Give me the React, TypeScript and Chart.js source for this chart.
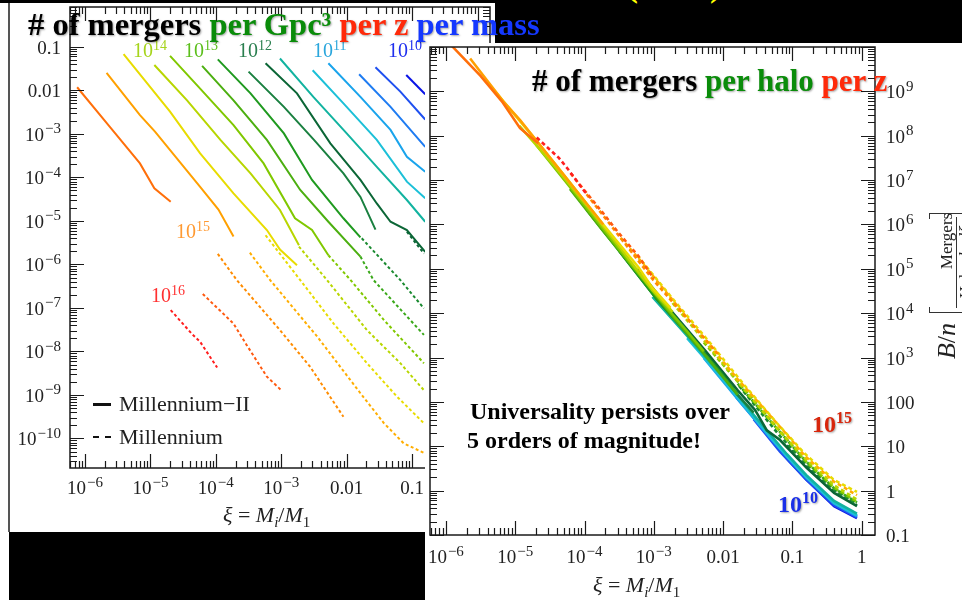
import React, { useEffect, useRef } from 'react';
import { Chart, registerables } from 'chart.js';

Chart.register(...registerables);

// ---------------- axis ticks ----------------
const xTickValues = [1e-6, 1e-5, 1e-4, 1e-3, 0.01, 0.1, 1];
const xTickLabels = ['10^−6', '10^−5', '10^−4', '10^−3', '0.01', '0.1', '1'];
const leftYTickValues = [0.1, 0.01, 1e-3, 1e-4, 1e-5, 1e-6, 1e-7, 1e-8, 1e-9, 1e-10];
const leftYTickLabels = ['0.1', '0.01', '10^−3', '10^−4', '10^−5', '10^−6', '10^−7', '10^−8', '10^−9', '10^−10'];
const rightYTickValues = [0.1, 1, 10, 100, 1e3, 1e4, 1e5, 1e6, 1e7, 1e8, 1e9];
const rightYTickLabels = ['0.1', '1', '10', '100', '10^3', '10^4', '10^5', '10^6', '10^7', '10^8', '10^9'];
const xRange = [5.9e-7, 1.55];
const leftYRange = [2.1e-11, 0.82];
const rightYRange = [0.1, 1e10];

// ---------------- left panel data (log10 xi, log10 mergers / Gpc^3 / z / mass) ----------------
const ls1Xi = [-6.12, -5.62, -5.16, -4.94, -4.69];
const ls1Val = [-1.93, -2.84, -3.68, -4.25, -4.56];
const ls2Xi = [-5.67, -5.16, -4.93, -4.24, -3.96, -3.73];
const ls2Val = [-1.6, -2.57, -2.95, -4.22, -4.74, -5.36];
const ls3Xi = [-5.41, -4.7, -4.24, -3.73, -3.22, -3.02, -2.76];
const ls3Val = [-1.17, -2.49, -3.45, -4.37, -5.21, -5.66, -6.02];
const ls4Xi = [-4.94, -4.44, -3.93, -3.47, -3.02, -2.73];
const ls4Val = [-1.42, -2.23, -3.14, -3.91, -4.75, -5.56];
const ls5Xi = [-4.7, -4.24, -3.73, -3.27, -2.79, -2.53, -2.28];
const ls5Val = [-1.21, -1.96, -2.8, -3.68, -4.94, -5.21, -5.79];
const ls6Xi = [-4.21, -3.73, -3.22, -2.71, -2.28, -1.79];
const ls6Val = [-1.44, -2.23, -3.14, -4.29, -5.02, -5.82];
const ls7Xi = [-3.97, -3.47, -2.96, -2.53, -2.05, -1.79];
const ls7Val = [-1.29, -2.07, -2.99, -4.06, -4.94, -5.38];
const ls8Xi = [-3.5, -2.96, -2.5, -2.05, -1.79, -1.56];
const ls8Val = [-1.57, -2.38, -3.14, -3.91, -4.45, -5.2];
const ls9Xi = [-3.24, -2.76, -2.25, -1.79, -1.54, -1.33, -1.08, -0.8];
const ls9Val = [-1.38, -2.07, -3.22, -4.06, -4.6, -5.02, -5.21, -5.71];
const ls10Xi = [-3.02, -2.51, -2.0, -1.54, -1.08, -0.8];
const ls10Val = [-1.27, -2.15, -2.99, -3.76, -4.52, -5.02];
const ls11Xi = [-2.52, -2.05, -1.54, -1.08, -0.8];
const ls11Val = [-1.54, -2.3, -3.14, -4.1, -4.48];
const ls12Xi = [-2.28, -1.79, -1.33, -1.08, -0.8];
const ls12Val = [-1.38, -2.15, -2.91, -3.53, -3.87];
const ls13Xi = [-1.81, -1.33, -0.8];
const ls13Val = [-1.63, -2.38, -3.3];
const ls14Xi = [-1.56, -1.18, -0.8];
const ls14Val = [-1.47, -2.03, -2.67];
const ls15Xi = [-1.09, -0.8];
const ls15Val = [-1.65, -2.09];

const ld1Xi = [-4.69, -4.37, -4.24, -3.98];
const ld1Val = [-7.05, -7.59, -7.78, -8.37];
const ld2Xi = [-4.2, -3.73, -3.53, -3.22, -3.0];
const ld2Val = [-6.68, -7.36, -7.85, -8.58, -8.89];
const ld3Xi = [-3.97, -3.68, -3.02, -2.56, -2.05];
const ld3Val = [-5.76, -6.36, -7.51, -8.35, -9.5];
const ld4Xi = [-3.48, -3.17, -2.45, -1.79, -1.43, -1.13, -0.82];
const ld4Val = [-5.73, -6.36, -7.66, -8.96, -9.65, -10.11, -10.33];
const ld5Xi = [-3.24, -2.71, -2.2, -1.69, -1.23, -0.82];
const ld5Val = [-5.33, -6.36, -7.36, -8.27, -9.04, -9.65];
const ld6Xi = [-2.73, -2.3, -1.69, -1.18, -0.82];
const ld6Val = [-5.59, -6.36, -7.51, -8.27, -8.89];
const ld7Xi = [-2.28, -1.94, -1.43, -0.82];
const ld7Val = [-5.79, -6.36, -7.28, -8.27];
const ld8Xi = [-1.79, -1.59, -0.82];
const ld8Val = [-5.82, -6.36, -7.62];
const ld9Xi = [-1.77, -1.18, -0.82];
const ld9Val = [-5.4, -6.36, -7.01];
const ld10Xi = [-1.08, -0.82];
const ld10Val = [-5.25, -5.75];

// ---------------- right panel data (log10 xi, log10 B/n) ----------------
const rs1Xi = [-6.12, -5.9, -5.5, -5.18, -4.93, -4.67];
const rs1Val = [10.4, 10.0, 9.35, 8.75, 8.17, 7.83];
const rs2Xi = [-5.65, -5.16, -4.93, -4.24, -3.96, -3.73];
const rs2Val = [9.74, 8.75, 8.35, 7.0, 6.45, 6.0];
const rs3Xi = [-5.41, -4.7, -4.24, -3.73, -3.22, -3.02, -2.76];
const rs3Val = [9.22, 7.9, 7.0, 6.0, 5.03, 4.57, 4.12];
const rs4Xi = [-4.94, -4.44, -3.93, -3.47, -3.02, -2.73];
const rs4Val = [8.22, 7.33, 6.35, 5.44, 4.52, 4.03];
const rs5Xi = [-4.7, -4.24, -3.73, -3.27, -2.79, -2.53, -2.28];
const rs5Val = [7.8, 6.9, 5.9, 4.99, 4.08, 3.61, 3.14];
const rs6Xi = [-4.21, -3.73, -3.22, -2.71, -2.28, -1.79];
const rs6Val = [6.8, 5.85, 4.88, 3.89, 3.09, 2.16];
const rs7Xi = [-3.97, -3.47, -2.96, -2.53, -2.05, -1.79];
const rs7Val = [6.33, 5.34, 4.32, 3.56, 2.69, 2.16];
const rs8Xi = [-3.5, -2.96, -2.5, -2.05, -1.79, -1.56];
const rs8Val = [5.4, 4.32, 3.5, 2.69, 2.16, 1.76];
const rs9Xi = [-3.24, -2.76, -2.25, -1.79, -1.54, -1.37, -1.18, -0.8, -0.4, -0.07];
const rs9Val = [5.0, 4.07, 3.14, 2.26, 1.82, 1.36, 1.14, 0.52, -0.05, -0.35];
const rs10Xi = [-3.02, -2.51, -2.0, -1.54, -1.08, -0.8, -0.4, -0.07];
const rs10Val = [4.37, 3.47, 2.55, 1.67, 0.82, 0.35, -0.23, -0.52];
const rs11Xi = [-2.52, -2.05, -1.54, -1.08, -0.8, -0.4, -0.07];
const rs11Val = [3.44, 2.59, 1.62, 0.77, 0.3, -0.28, -0.55];
const rs12Xi = [-2.28, -1.79, -1.33, -1.08, -0.8, -0.4, -0.07];
const rs12Val = [2.99, 2.06, 1.21, 0.77, 0.3, -0.28, -0.57];
const rs13Xi = [-1.81, -1.33, -0.8, -0.4, -0.07];
const rs13Val = [2.1, 1.21, 0.3, -0.28, -0.58];
const rs14Xi = [-1.56, -1.18, -0.8, -0.4, -0.07];
const rs14Val = [1.61, 0.88, 0.25, -0.33, -0.6];
const rs15Xi = [-1.09, -0.8, -0.4, -0.07];
const rs15Val = [0.74, 0.25, -0.35, -0.62];

const rd1Xi = [-4.69, -4.37, -4.24, -3.98];
const rd1Val = [7.96, 7.5, 7.25, 6.7];
const rd2Xi = [-4.2, -3.73, -3.53, -3.22, -3.0];
const rd2Val = [7.15, 6.25, 5.85, 5.28, 4.78];
const rd3Xi = [-3.97, -3.68, -3.02, -2.56, -2.05];
const rd3Val = [6.68, 6.1, 4.77, 3.95, 3.04];
const rd4Xi = [-3.48, -3.17, -2.45, -1.79, -1.43, -1.13, -0.82, -0.4, -0.07];
const rd4Val = [5.7, 5.14, 3.76, 2.51, 1.88, 1.35, 0.78, 0.2, -0.1];
const rd5Xi = [-3.24, -2.71, -2.2, -1.69, -1.23, -0.82, -0.4, -0.07];
const rd5Val = [5.3, 4.29, 3.35, 2.37, 1.53, 0.83, 0.24, -0.03];
const rd6Xi = [-2.73, -2.3, -1.69, -1.18, -0.82, -0.4, -0.07];
const rd6Val = [4.23, 3.43, 2.27, 1.33, 0.73, 0.12, -0.2];
const rd7Xi = [-2.28, -1.94, -1.43, -0.82, -0.4, -0.07];
const rd7Val = [3.34, 2.73, 1.8, 0.68, 0.07, -0.25];
const rd8Xi = [-1.79, -1.59, -0.82, -0.4, -0.07];
const rd8Val = [2.41, 2.05, 0.68, 0.05, -0.27];
const rd9Xi = [-1.77, -1.18, -0.82, -0.4, -0.07];
const rd9Val = [2.36, 1.23, 0.63, 0.02, -0.3];
const rd10Xi = [-1.08, -0.82, -0.4, -0.07];
const rd10Val = [1.02, 0.58, -0.03, -0.33];

// ---------------- styles ----------------
const solidColors = ['#ff6f0a', '#ffa000', '#e8dc00', '#b8d600', '#80c800', '#4caf10', '#1f9a1f', '#1a8040',
  '#0b6636', '#12b3a0', '#1cc0d8', '#1aa4ec', '#1f7cf2', '#1f50f0', '#0a14e6'];
const dashedColors = ['#ff1e1e', '#ff5a10', '#ff8c00', '#ffae00', '#e8dc00', '#b8d600', '#80c800', '#3aa81a',
  '#1a8a30', '#0b6636'];

const leftSolid = [[ls1Xi, ls1Val], [ls2Xi, ls2Val], [ls3Xi, ls3Val], [ls4Xi, ls4Val], [ls5Xi, ls5Val],
  [ls6Xi, ls6Val], [ls7Xi, ls7Val], [ls8Xi, ls8Val], [ls9Xi, ls9Val], [ls10Xi, ls10Val], [ls11Xi, ls11Val],
  [ls12Xi, ls12Val], [ls13Xi, ls13Val], [ls14Xi, ls14Val], [ls15Xi, ls15Val]];
const leftDashed = [[ld1Xi, ld1Val], [ld2Xi, ld2Val], [ld3Xi, ld3Val], [ld4Xi, ld4Val], [ld5Xi, ld5Val],
  [ld6Xi, ld6Val], [ld7Xi, ld7Val], [ld8Xi, ld8Val], [ld9Xi, ld9Val], [ld10Xi, ld10Val]];
const rightSolid = [[rs1Xi, rs1Val], [rs2Xi, rs2Val], [rs3Xi, rs3Val], [rs4Xi, rs4Val], [rs5Xi, rs5Val],
  [rs6Xi, rs6Val], [rs7Xi, rs7Val], [rs8Xi, rs8Val], [rs9Xi, rs9Val], [rs10Xi, rs10Val], [rs11Xi, rs11Val],
  [rs12Xi, rs12Val], [rs13Xi, rs13Val], [rs14Xi, rs14Val], [rs15Xi, rs15Val]];
const rightDashed = [[rd1Xi, rd1Val], [rd2Xi, rd2Val], [rd3Xi, rd3Val], [rd4Xi, rd4Val], [rd5Xi, rd5Val],
  [rd6Xi, rd6Val], [rd7Xi, rd7Val], [rd8Xi, rd8Val], [rd9Xi, rd9Val], [rd10Xi, rd10Val]];

const FONT = '"Liberation Serif", "Times New Roman", serif';

function toPoints(xi: number[], val: number[]) {
  return xi.map((lx, i) => ({ x: Math.pow(10, lx), y: Math.pow(10, val[i]) }));
}

function buildDatasets(solid: number[][][], dashed: number[][][], width: number, dash: number[]) {
  const ds: any[] = [];
  dashed.forEach(([xi, val], i) => ds.push({
    data: toPoints(xi, val), borderColor: dashedColors[i], borderWidth: width, borderDash: dash,
    pointRadius: 0, fill: false, tension: 0,
  }));
  solid.forEach(([xi, val], i) => ds.push({
    data: toPoints(xi, val), borderColor: solidColors[i], borderWidth: width,
    pointRadius: 0, fill: false, tension: 0,
  }));
  return ds;
}

type FrameCfg = {
  major: number; minor: number; fs: number; efs: number; raise: number;
  xTicks: number[]; xLabels: string[]; yTicks: number[]; yLabels: string[];
  ySide: 'left' | 'right'; xDy: number; yDy: number; yGap: number;
};

function makeFramePlugin(cfg: FrameCfg) {
  return {
    id: 'logFrame',
    afterDatasetsDraw(chart: any) {
      const { ctx, chartArea: a } = chart;
      const xs = chart.scales.x;
      const ys = chart.scales.y;
      const logTicks = (scale: any) => {
        const out: [number, boolean][] = [];
        const lo = Math.floor(Math.log10(scale.min));
        const hi = Math.ceil(Math.log10(scale.max));
        for (let d = lo; d <= hi; d++) {
          for (let m = 1; m <= 9; m++) {
            const v = m * Math.pow(10, d);
            if (v >= scale.min && v <= scale.max) out.push([v, m === 1]);
          }
        }
        return out;
      };
      ctx.save();
      ctx.strokeStyle = '#1a1a1a';
      ctx.lineWidth = 1.2;
      ctx.beginPath();
      for (const [v, major] of logTicks(xs)) {
        const p = Math.round(xs.getPixelForValue(v)) + 0.5;
        const L = major ? cfg.major : cfg.minor;
        ctx.moveTo(p, a.bottom); ctx.lineTo(p, a.bottom - L);
        ctx.moveTo(p, a.top); ctx.lineTo(p, a.top + L);
      }
      for (const [v, major] of logTicks(ys)) {
        const p = Math.round(ys.getPixelForValue(v)) + 0.5;
        const L = major ? cfg.major : cfg.minor;
        ctx.moveTo(a.left, p); ctx.lineTo(a.left + L, p);
        ctx.moveTo(a.right, p); ctx.lineTo(a.right - L, p);
      }
      ctx.stroke();
      ctx.lineWidth = 1.5;
      ctx.strokeRect(a.left, a.top, a.right - a.left, a.bottom - a.top);

      const baseFont = `${cfg.fs}px ${FONT}`;
      const expFont = `${cfg.efs}px ${FONT}`;
      ctx.fillStyle = '#222';
      ctx.textAlign = 'left';
      ctx.textBaseline = 'alphabetic';
      const drawLabel = (text: string, x: number, baseline: number, align: string) => {
        const [b, e] = text.split('^');
        ctx.font = baseFont;
        const wb = ctx.measureText(b).width;
        let we = 0;
        if (e) { ctx.font = expFont; we = ctx.measureText(e).width + 1; }
        const W = wb + we;
        const x0 = align === 'center' ? x - W / 2 : align === 'right' ? x - W : x;
        ctx.font = baseFont;
        ctx.fillText(b, x0, baseline);
        if (e) { ctx.font = expFont; ctx.fillText(e, x0 + wb + 1, baseline - cfg.raise); }
      };
      cfg.xTicks.forEach((v, i) => {
        if (v < xs.min || v > xs.max) return;
        drawLabel(cfg.xLabels[i], xs.getPixelForValue(v), a.bottom + cfg.xDy, 'center');
      });
      cfg.yTicks.forEach((v, i) => {
        if (v < ys.min || v > ys.max) return;
        const py = ys.getPixelForValue(v) + cfg.yDy;
        if (cfg.ySide === 'left') drawLabel(cfg.yLabels[i], a.left - cfg.yGap, py, 'right');
        else drawLabel(cfg.yLabels[i], a.right + cfg.yGap, py, 'left');
      });
      ctx.restore();
    },
  };
}

type PanelProps = {
  width: number; height: number; panel: 'left' | 'right';
};

function LogPanel({ width, height, panel }: PanelProps) {
  const ref = useRef<HTMLCanvasElement>(null);
  useEffect(() => {
    const isLeft = panel === 'left';
    const datasets = isLeft
      ? buildDatasets(leftSolid, leftDashed, 2, [3, 2.5])
      : buildDatasets(rightSolid, rightDashed, 2.6, [4, 3]);
    const yRange = isLeft ? leftYRange : rightYRange;
    const frame: FrameCfg = {
      major: 14, minor: 7, fs: 19, efs: 15, raise: 7.5,
      xTicks: xTickValues, xLabels: xTickLabels,
      yTicks: isLeft ? leftYTickValues : rightYTickValues,
      yLabels: isLeft ? leftYTickLabels : rightYTickLabels,
      ySide: isLeft ? 'left' : 'right',
      xDy: isLeft ? 26 : 28, yDy: 7, yGap: isLeft ? 9 : 11,
    };
    const yW = isLeft ? 60 : 87;
    const xH = isLeft ? 64 : 65;
    const chart = new Chart(ref.current as HTMLCanvasElement, {
      type: 'line',
      data: { datasets },
      options: {
        animation: false,
        responsive: false,
        maintainAspectRatio: false,
        events: [],
        layout: { padding: isLeft ? { left: 0, top: 4, right: 5, bottom: 0 } : { left: 5, top: 4, right: 0, bottom: 0 } },
        plugins: { legend: { display: false }, tooltip: { enabled: false } },
        scales: {
          x: {
            type: 'logarithmic', min: xRange[0], max: xRange[1], bounds: 'data', position: 'bottom',
            grid: { display: false }, border: { display: false }, ticks: { display: false },
            afterFit: (s: any) => { s.height = xH; },
          },
          y: {
            type: 'logarithmic', min: yRange[0], max: yRange[1], bounds: 'data',
            position: isLeft ? 'left' : 'right',
            grid: { display: false }, border: { display: false }, ticks: { display: false },
            afterFit: (s: any) => { s.width = yW; },
          },
        },
      } as any,
      plugins: [makeFramePlugin(frame)],
    });
    return () => chart.destroy();
  }, [panel]);
  return <canvas ref={ref} width={width} height={height} style={{ width, height, display: 'block' }} />;
}

function Txt({ x, baseline, fs, children, style }: any) {
  return (
    <div style={{
      position: 'absolute', left: x, top: baseline - 0.8375 * fs, fontSize: fs, lineHeight: 1,
      fontFamily: FONT, whiteSpace: 'nowrap', ...style,
    }}>{children}</div>
  );
}

function Sup({ children, size, raise }: any) {
  return <span style={{ fontSize: size, verticalAlign: raise, lineHeight: 0 }}>{children}</span>;
}

function Rot({ cx, cy, fs, children, style }: any) {
  return (
    <div style={{
      position: 'absolute', left: cx, top: cy, fontSize: fs, lineHeight: 1, fontFamily: FONT,
      whiteSpace: 'nowrap', transform: 'translate(-50%, -50%) rotate(-90deg)', color: '#222', ...style,
    }}>{children}</div>
  );
}

const shadow = '1px 1px 2px rgba(0,0,0,0.35)';

function XiLabel({ x, baseline }: any) {
  return (
    <Txt x={x} baseline={baseline} fs={22} style={{ color: '#222' }}>
      <i>ξ</i> = <i>M</i><Sup size={15} raise={-5}><i>i</i></Sup>/<i>M</i><Sup size={15} raise={-5}>1</Sup>
    </Txt>
  );
}

function MassLabel({ x, baseline, exp, color }: any) {
  return (
    <Txt x={x} baseline={baseline} fs={20} style={{ color }}>
      10<Sup size={14} raise={7.5}>{exp}</Sup>
    </Txt>
  );
}

export default function App() {
  return (
    <div style={{ position: 'fixed', left: 0, top: 0, width: 962, height: 600, overflow: 'hidden', background: '#fff' }}>
      {/* left panel */}
      <div style={{ position: 'absolute', left: 10, top: 3 }}>
        <LogPanel width={485} height={529} panel="left" />
      </div>
      <div style={{ position: 'absolute', left: 8, top: 3, width: 2, height: 529, background: '#555' }} />
      <MassLabel x={133} baseline={57} exp="14" color="#a6d41c" />
      <MassLabel x={184} baseline={57} exp="13" color="#5cbf1c" />
      <MassLabel x={238} baseline={57} exp="12" color="#2a7f4f" />
      <MassLabel x={313} baseline={57} exp="11" color="#2aa6dc" />
      <MassLabel x={388} baseline={57} exp="10" color="#1f2fee" />
      <MassLabel x={176} baseline={238} exp="15" color="#ff9a33" />
      <MassLabel x={151} baseline={302} exp="16" color="#ff3030" />
      <div style={{ position: 'absolute', left: 93, top: 403, width: 18, height: 2.5, background: '#111' }} />
      <Txt x={119} baseline={411} fs={22} style={{ color: '#222' }}>Millennium−II</Txt>
      <div style={{ position: 'absolute', left: 93, top: 436, width: 18, height: 0, borderTop: '2.5px dashed #111' }} />
      <Txt x={119} baseline={444} fs={22} style={{ color: '#222' }}>Millennium</Txt>
      <XiLabel x={223} baseline={522} />

      {/* black background pieces */}
      <div style={{ position: 'absolute', left: 0, top: 0, width: 962, height: 3, background: '#000' }} />
      <div style={{ position: 'absolute', left: 495, top: 0, width: 467, height: 43, background: '#000' }} />
      <div style={{ position: 'absolute', left: 9, top: 532, width: 416, height: 68, background: '#000' }} />
      <Txt x={626} baseline={-4} fs={36} style={{ color: '#ffff00', fontWeight: 'bold' }}>(2010)</Txt>

      {/* right panel */}
      <div style={{ position: 'absolute', left: 425, top: 43, width: 537, height: 557, background: '#fff' }}>
        <LogPanel width={537} height={557} panel="right" />
      </div>
      <XiLabel x={593} baseline={592} />
      <Rot cx={947} cy={341} fs={26}><i>B</i>/<i>n</i></Rot>
      <Rot cx={946} cy={241} fs={17}>Mergers</Rot>
      <Rot cx={965} cy={262} fs={17}>Halo <i>dz dξ</i></Rot>
      <div style={{ position: 'absolute', left: 956, top: 217, width: 1, height: 91, background: '#333' }} />
      <div style={{ position: 'absolute', left: 929, top: 213, width: 40, height: 1.2, background: '#333' }} />
      <div style={{ position: 'absolute', left: 929, top: 312, width: 40, height: 1.2, background: '#333' }} />
      <div style={{ position: 'absolute', left: 929, top: 213, width: 1.2, height: 6, background: '#333' }} />
      <div style={{ position: 'absolute', left: 929, top: 307, width: 1.2, height: 6, background: '#333' }} />
      <Txt x={470} baseline={419} fs={24} style={{ fontWeight: 'bold', color: '#000' }}>Universality persists over</Txt>
      <Txt x={467} baseline={448} fs={24} style={{ fontWeight: 'bold', color: '#000' }}>5 orders of magnitude!</Txt>
      <Txt x={812} baseline={432} fs={24} style={{ fontWeight: 'bold', color: '#d8260c', textShadow: shadow }}>
        10<Sup size={16} raise={9}>15</Sup>
      </Txt>
      <Txt x={778} baseline={512} fs={24} style={{ fontWeight: 'bold', color: '#1a2fe8', textShadow: shadow }}>
        10<Sup size={16} raise={9}>10</Sup>
      </Txt>

      {/* titles */}
      <Txt x={28} baseline={35} fs={32.5} style={{ fontWeight: 'bold', color: '#000', textShadow: shadow }}>
        # of mergers <span style={{ color: '#0a8c0a' }}>per Gpc³</span>{' '}
        <span style={{ color: '#ff2a0a' }}>per z</span>{' '}
        <span style={{ color: '#1438ff' }}>per mass</span>
      </Txt>
      <Txt x={532} baseline={91} fs={31} style={{ fontWeight: 'bold', color: '#000', textShadow: shadow }}>
        # of mergers <span style={{ color: '#0a8c0a' }}>per halo</span>{' '}
        <span style={{ color: '#ff2a0a' }}>per z</span>
      </Txt>
    </div>
  );
}
